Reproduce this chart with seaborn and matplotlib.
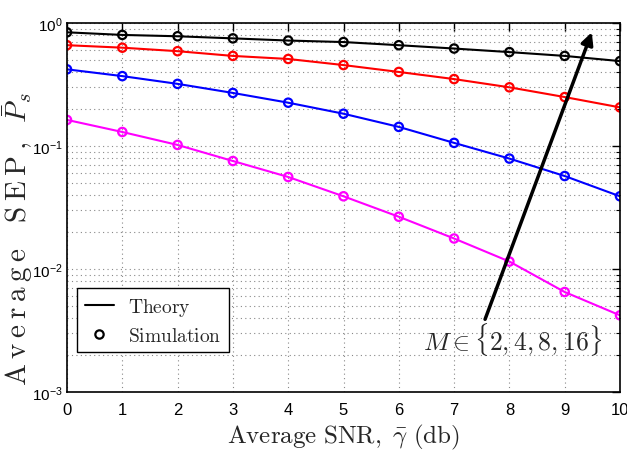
import numpy as np
import pandas as pd
import matplotlib
matplotlib.use("Agg")
import matplotlib.pyplot as plt
import seaborn as sns
from matplotlib.lines import Line2D
from matplotlib.ticker import LogLocator, NullFormatter, FixedLocator

snr_db = [0, 1, 2, 3, 4, 5, 6, 7, 8, 9, 10]
sep_m2 = [0.84, 0.80, 0.78, 0.75, 0.72, 0.70, 0.66, 0.62, 0.58, 0.54, 0.49]
sep_m4 = [0.66, 0.63, 0.59, 0.54, 0.51, 0.455, 0.40, 0.35, 0.30, 0.25, 0.206]
sep_m8 = [0.42, 0.37, 0.32, 0.27, 0.225, 0.183, 0.143, 0.106, 0.079, 0.057, 0.039]
sep_m16 = [0.163, 0.130, 0.102, 0.0755, 0.056, 0.039, 0.0266, 0.0177, 0.0115, 0.0065, 0.0042]
series_names = ["M=2", "M=4", "M=8", "M=16"]
colors = ["black", "red", "blue", "magenta"]
x_ticks = [0, 1, 2, 3, 4, 5, 6, 7, 8, 9, 10]

sns.set_theme(style="white")
plt.rcParams['font.family'] = ['Liberation Sans', 'DejaVu Sans']
plt.rcParams['mathtext.fontset'] = 'cm'

df = pd.DataFrame({
    "snr": snr_db * 4,
    "sep": sep_m2 + sep_m4 + sep_m8 + sep_m16,
    "M": sum([[n] * len(snr_db) for n in series_names], []),
})

fig = plt.figure(figsize=(6.27, 4.60), dpi=100)
ax = fig.add_axes([67/627, 1 - 393/460, (620-67)/627, (393-24)/460])

sns.lineplot(data=df, x="snr", y="sep", hue="M", palette=colors,
             hue_order=series_names, ax=ax, lw=1.5, legend=False)
sns.scatterplot(data=df, x="snr", y="sep", hue="M", palette=colors,
                hue_order=series_names, ax=ax, legend=False, marker="o",
                s=36, facecolor="none", linewidth=1.6)
coll = ax.collections[-1]
ec = [matplotlib.colors.to_rgba(colors[series_names.index(n)]) for n in df["M"]]
coll.set_edgecolors(ec)
coll.set_facecolors("none")

ax.set_yscale("log")
ax.set_ylim(1e-3, 1)
ax.set_xlim(0, 10)
ax.xaxis.set_major_locator(FixedLocator(x_ticks))
ax.yaxis.set_major_locator(LogLocator(base=10, numticks=10))
ax.yaxis.set_minor_locator(LogLocator(base=10, subs=np.arange(2, 10), numticks=20))
ax.yaxis.set_minor_formatter(NullFormatter())

ax.grid(True, which="major", axis="x", color="#888888", linestyle=(0, (1, 3)), lw=0.8)
ax.grid(True, which="both", axis="y", color="#888888", linestyle=(0, (1, 3)), lw=0.8)
for s in ax.spines.values():
    s.set_color("black")
    s.set_linewidth(1.2)
ax.tick_params(axis="both", which="both", direction="in", top=True, right=True,
               color="black", labelcolor="black")
ax.tick_params(axis="x", labelsize=12, pad=7)
ax.tick_params(axis="y", labelsize=11, pad=3)
ax.tick_params(axis="both", which="major", length=6, width=1)
ax.tick_params(axis="both", which="minor", length=3, width=0.8)

ax.set_xlabel(r"$\mathrm{Average\ SNR,}\ \bar{\gamma}\ \mathrm{(db)}$", fontsize=18, labelpad=4)
ax.set_ylabel(r"$\mathrm{A\:v\:e\:r\:a\:g\:e}\quad\mathrm{S\:E\:P\:,}\;\;\bar{P}_s$", fontsize=21)
ax.yaxis.set_label_coords((35-67)/553, 1 - (239-24)/369)

ax.annotate("", xy=(9.49, 0.84), xytext=(7.56, 0.0039),
            arrowprops=dict(arrowstyle="-|>", color="black", lw=2.5,
                            mutation_scale=18, shrinkA=0, shrinkB=0))
ax.text(8.05, 0.0027, r"$M \in \{2, 4, 8, 16\}$", fontsize=18.5, ha="center", va="center")

handles = [Line2D([0], [0], color="black", lw=1.5),
           Line2D([0], [0], color="black", lw=0, marker="o", markersize=6,
                  markerfacecolor="none", markeredgewidth=1.6)]
leg = ax.legend(handles, [r"$\mathrm{Theory}$", r"$\mathrm{Simulation}$"],
                loc="upper left", bbox_to_anchor=((77-67)/553, 1 - (289-24)/369),
                fontsize=14, frameon=True, fancybox=False, borderaxespad=0,
                handlelength=1.5, labelspacing=0.45, handletextpad=0.7, borderpad=0.4)
leg.get_frame().set_edgecolor("black")
leg.get_frame().set_linewidth(1.0)
leg.get_frame().set_alpha(1)

fig.savefig("out.png", dpi=100)
